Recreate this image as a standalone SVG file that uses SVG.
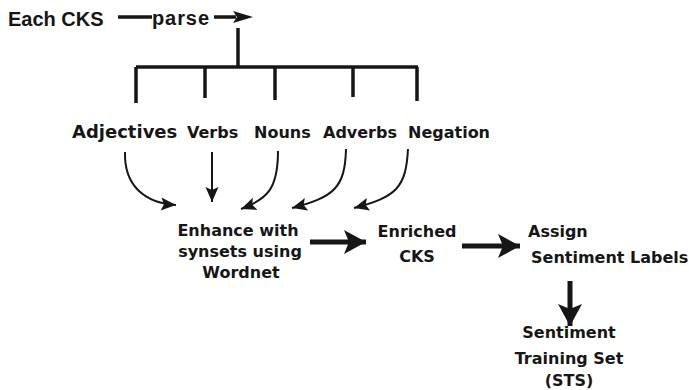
<svg xmlns="http://www.w3.org/2000/svg" width="689" height="390" viewBox="0 0 689 390">
  <style>
    .t { font-family: "DejaVu Sans", Verdana, sans-serif; font-weight: bold; font-size: 16px; fill: #161616; }
    .a { font-family: "Liberation Sans", Arial, sans-serif; font-weight: bold; font-size: 20px; fill: #161616; }
    .ln { stroke: #161616; stroke-width: 3.5; fill: none; }
    .cv { stroke: #161616; stroke-width: 2; fill: none; }
    .big { stroke: #161616; stroke-width: 5; fill: none; }
    marker { overflow: visible; }
  </style>
  <defs>
    <marker id="headCurve" markerUnits="userSpaceOnUse" markerWidth="16" markerHeight="14" refX="15" refY="6.5" orient="auto">
      <path d="M0,0 L15,6.5 L0,13 L3,6.5 z" fill="#161616"/>
    </marker>
    <marker id="headBig" markerUnits="userSpaceOnUse" markerWidth="24" markerHeight="24" refX="22" refY="12" orient="auto">
      <path d="M0,0 L22,12 L0,24 L5,12 z" fill="#161616"/>
    </marker>
  </defs>

  <g id="connectors">
    <!-- Each CKS → parse → -->
    <line class="ln" x1="118" y1="17" x2="152" y2="17"/>
    <line class="ln" x1="214" y1="17" x2="236" y2="17"/>
    <path d="M233,11 L253,17 L233,23 L237,17 z" fill="#161616"/>
    <!-- tree of parts of speech -->
    <line class="ln" x1="238" y1="28" x2="238" y2="67"/>
    <line class="ln" x1="136" y1="67" x2="418" y2="67"/>
    <line class="ln" x1="136" y1="67" x2="136" y2="103"/>
    <line class="ln" x1="205" y1="67" x2="205" y2="98"/>
    <line class="ln" x1="275" y1="67" x2="275" y2="100"/>
    <line class="ln" x1="353" y1="67" x2="353" y2="97"/>
    <line class="ln" x1="417" y1="67" x2="417" y2="101"/>
    <!-- parts of speech → Enhance -->
    <path class="cv" d="M125,152 C124,186 145,203 176,205" marker-end="url(#headCurve)"/>
    <line class="cv" x1="212" y1="152" x2="212" y2="202" marker-end="url(#headCurve)"/>
    <path class="cv" d="M278,151 C278,188 268,199 241,209" marker-end="url(#headCurve)"/>
    <path class="cv" d="M346,149 C345,188 334,197 292,208" marker-end="url(#headCurve)"/>
    <path class="cv" d="M408,149 C406,188 396,197 354,208" marker-end="url(#headCurve)"/>
    <!-- main flow -->
    <line class="big" x1="310" y1="242" x2="366" y2="242" marker-end="url(#headBig)"/>
    <line class="big" x1="462" y1="246" x2="520" y2="246" marker-end="url(#headBig)"/>
    <line class="big" x1="570" y1="281" x2="570" y2="326" marker-end="url(#headBig)"/>
  </g>

  <g id="each-cks"><text class="a" x="8" y="26">Each CKS</text></g>
  <g id="parse"><text class="a" x="152" y="25" textLength="57" lengthAdjust="spacing">parse</text></g>

  <g id="adjectives"><text class="t" x="72" y="138" style="font-size:18px">Adjectives</text></g>
  <g id="verbs"><text class="t" x="187" y="138">Verbs</text></g>
  <g id="nouns"><text class="t" x="254" y="138">Nouns</text></g>
  <g id="adverbs"><text class="t" x="323" y="138">Adverbs</text></g>
  <g id="negation"><text class="t" x="408" y="138">Negation</text></g>

  <g id="enhance">
    <text class="t" text-anchor="middle" x="238" y="236">Enhance with</text>
    <text class="t" text-anchor="middle" x="240" y="257">synsets using</text>
    <text class="t" text-anchor="middle" x="241" y="278">Wordnet</text>
  </g>
  <g id="enriched">
    <text class="t" text-anchor="middle" x="417" y="237">Enriched</text>
    <text class="t" text-anchor="middle" x="417" y="262">CKS</text>
  </g>
  <g id="assign">
    <text class="t" x="528" y="237">Assign</text>
    <text class="t" x="531" y="263">Sentiment Labels</text>
  </g>
  <g id="sts">
    <text class="t" text-anchor="middle" x="569" y="338">Sentiment</text>
    <text class="t" text-anchor="middle" x="569" y="364">Training Set</text>
    <text class="t" text-anchor="middle" x="569" y="386">(STS)</text>
  </g>
</svg>
